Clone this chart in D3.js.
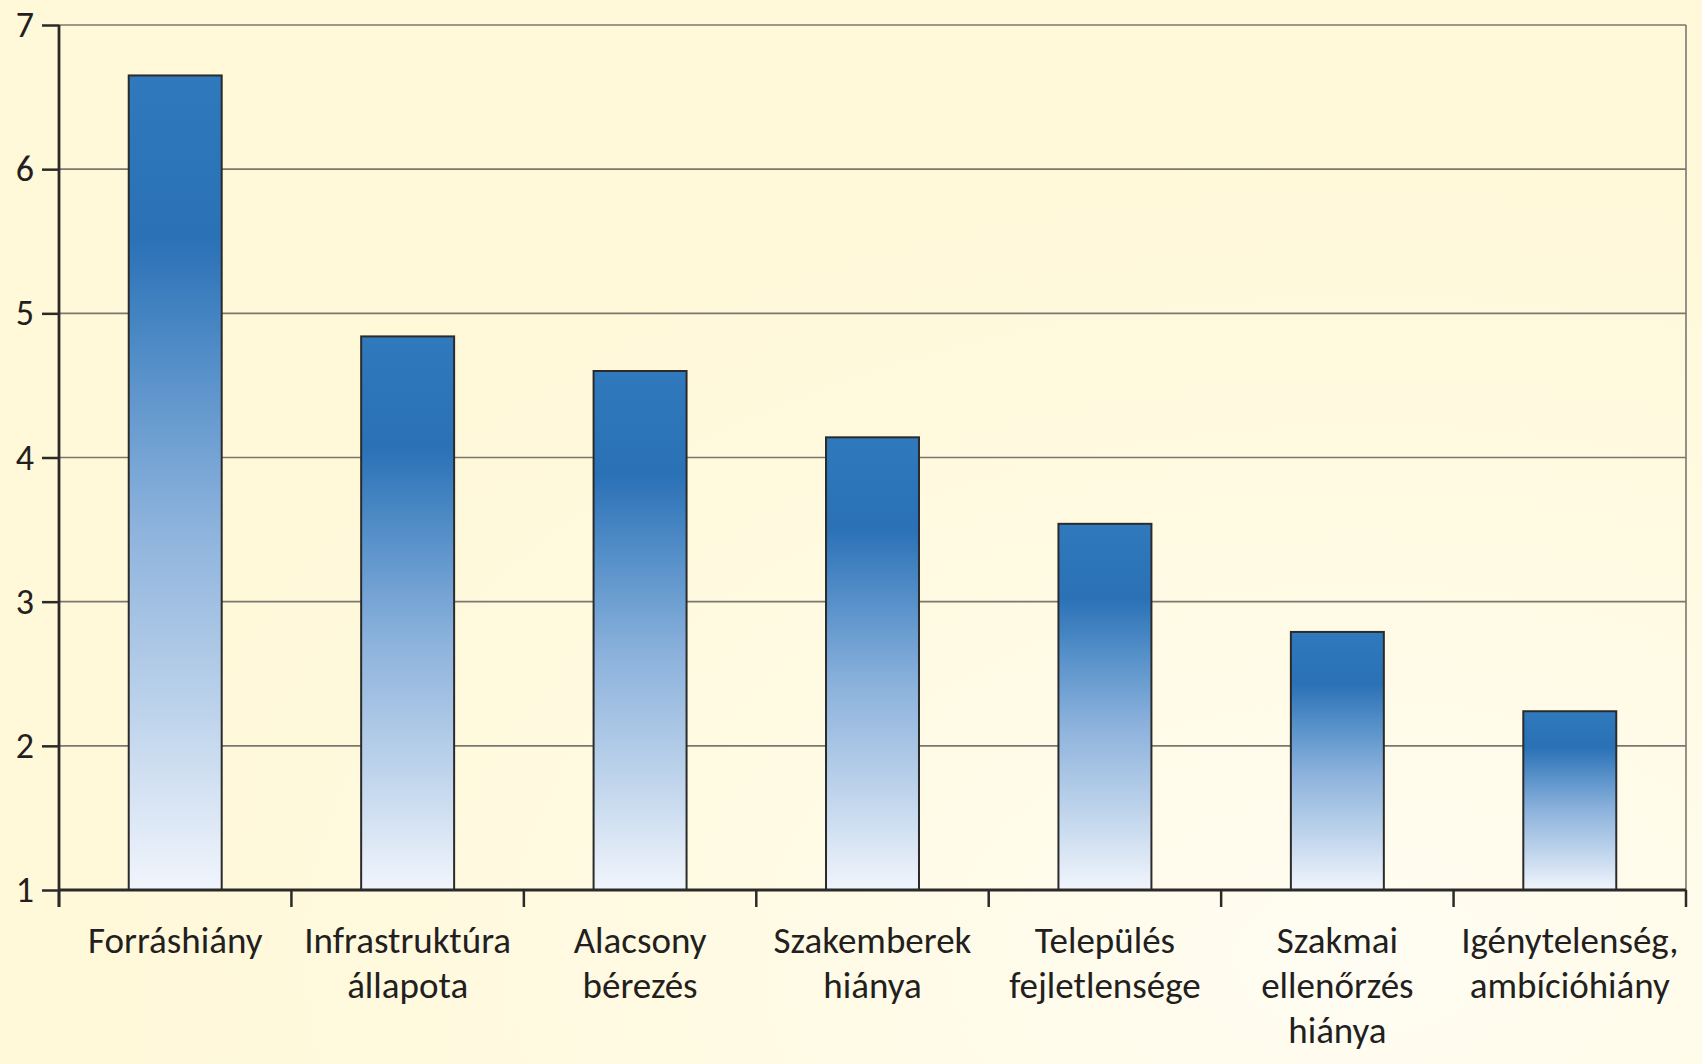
<!DOCTYPE html>
<html><head><meta charset="utf-8">
<script src="https://cdn.jsdelivr.net/npm/d3@7"></script>
<style>
html,body{margin:0;padding:0;background:#fff9dc;}
svg{display:block;}
text{font-family:Carlito,Lato,"Open Sans",sans-serif;fill:#231f20;}
</style></head>
<body>
<svg id="chart" width="1702" height="1064"></svg>
<script>
const categories = ["Forráshiány","Infrastruktúra\nállapota","Alacsony\nbérezés","Szakemberek\nhiánya","Település\nfejletlensége","Szakmai\nellenőrzés\nhiánya","Igénytelenség,\nambícióhiány"];
const values = [6.65, 4.84, 4.60, 4.14, 3.54, 2.79, 2.24];
const yTicks = [1,2,3,4,5,6,7];

const W = 1702, H = 1064;
const m = {left:59, right:1686, top:25, bottom:890};
const svg = d3.select("#chart");
const defs = svg.append("defs");

const bg = defs.append("radialGradient").attr("id","bg").attr("cx","0.8").attr("cy","0.9").attr("r","0.75");
bg.append("stop").attr("offset","0").attr("stop-color","#fffdf3");
bg.append("stop").attr("offset","0.5").attr("stop-color","#fffae3");
bg.append("stop").attr("offset","1").attr("stop-color","#fff8d9");
svg.append("rect").attr("width",W).attr("height",H).attr("fill","url(#bg)");

const g = defs.append("linearGradient").attr("id","barGrad").attr("x1",0).attr("y1",0).attr("x2",0).attr("y2",1);
[[0,"#3079bc"],[0.2,"#2a71b6"],[0.36,"#5690c9"],[0.55,"#8cb2dc"],[0.78,"#bdd3eb"],[1,"#f1f5fc"]].forEach(([o,c])=>
  g.append("stop").attr("offset",o).attr("stop-color",c));

const x = d3.scaleBand().domain(categories).range([m.left, m.right]).padding(0);
const y = d3.scaleLinear().domain([1,7]).range([m.bottom, m.top]);

// gridlines
svg.append("g").selectAll("line").data(yTicks.filter(t=>t>1)).join("line")
  .attr("x1",m.left).attr("x2",m.right).attr("y1",d=>y(d)).attr("y2",d=>y(d))
  .attr("stroke","#7b7670").attr("stroke-width",1.6);
svg.append("line").attr("x1",m.right).attr("x2",m.right).attr("y1",y(7)).attr("y2",y(1))
  .attr("stroke","#7b7670").attr("stroke-width",1.6);

// bars
const bw = x.bandwidth()*0.4;
svg.append("g").selectAll("rect").data(values).join("rect")
  .attr("x",(d,i)=>x(categories[i])+x.bandwidth()/2-bw/2)
  .attr("width",bw)
  .attr("y",d=>y(d))
  .attr("height",d=>y(1)-y(d))
  .attr("fill","url(#barGrad)")
  .attr("stroke","#2b2b2b").attr("stroke-width",2);

// y axis
const ya = svg.append("g").attr("transform",`translate(${m.left},0)`)
  .call(d3.axisLeft(y).tickValues(yTicks).tickSize(17).tickPadding(8).tickFormat(d3.format("d")));
ya.select(".domain").remove();
ya.selectAll(".tick line").attr("stroke","#2a2a2a").attr("stroke-width",2.5);
ya.selectAll(".tick text").attr("font-size",36).attr("fill","#231f20").style("font-family","Carlito,Lato,'Open Sans',sans-serif");
svg.append("line").attr("x1",m.left).attr("x2",m.left).attr("y1",y(7)).attr("y2",y(1)+17)
  .attr("stroke","#2a2a2a").attr("stroke-width",2.8);

// x axis
svg.append("line").attr("x1",m.left).attr("x2",m.right).attr("y1",y(1)).attr("y2",y(1))
  .attr("stroke","#2a2a2a").attr("stroke-width",2.8);
const bounds = categories.map(c=>x(c)).concat([x.range()[1]]);
svg.append("g").selectAll("line").data(bounds).join("line")
  .attr("x1",d=>d).attr("x2",d=>d).attr("y1",y(1)).attr("y2",y(1)+17)
  .attr("stroke","#2a2a2a").attr("stroke-width",2.5);

// x labels
const lab = svg.append("g").selectAll("text").data(categories).join("text")
  .attr("text-anchor","middle").attr("font-size",37)
  .attr("transform",d=>`translate(${x(d)+x.bandwidth()/2},953)`);
lab.each(function(d){
  const t = d3.select(this);
  d.split("\n").forEach((s,i)=>t.append("tspan").attr("x",0).attr("y",i*45).text(s));
});
</script>
</body></html>
